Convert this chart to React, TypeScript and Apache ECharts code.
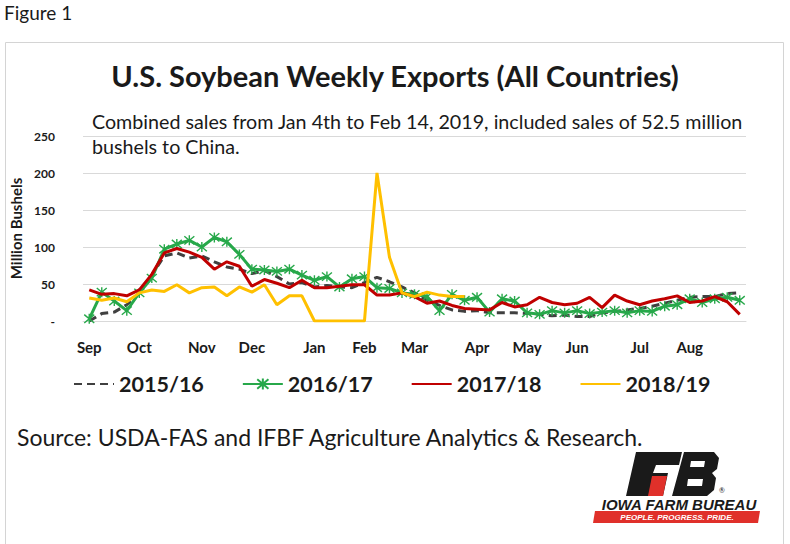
import React, { useEffect, useRef } from "react";
import * as echarts from "echarts";

// 53 weekly categories (Sep .. Aug), month labels at the first week shown
const weekLabels = [
  "Sep", "", "", "", "Oct", "", "", "", "", "Nov", "", "", "", "Dec", "", "", "", "",
  "Jan", "", "", "", "Feb", "", "", "", "Mar", "", "", "", "", "Apr", "", "", "",
  "May", "", "", "", "Jun", "", "", "", "", "Jul", "", "", "", "Aug", "", "", "", "",
];

const exports1516 = [
  0, 10, 12, 22, 38, 62, 88, 92, 85, 88, 80, 73, 70, 64, 68, 60, 50, 52, 46,
  48, 46, 45, 52, 59, 53, 46, 38, 28, 21, 15, 13, 14, 11,
  11, 11, 10, 9, 7, 8, 6, 6, 11, 13, 15, 17, 20, 24, 28, 32, 33, 33, 37, 38,
];
const exports1617 = [
  3, 39, 27, 14, 38, 58, 97, 104, 109, 100, 113, 107, 90, 70, 69, 67, 70, 62, 55,
  60, 46, 57, 60, 45, 44, 38, 36, 33, 14, 36, 28,
  32, 12, 30, 27, 11, 9,
  14, 11, 14, 10, 12, 14, 11, 14, 13,
  20, 22, 30, 25, 30, 32, 28,
];
const exports1718 = [
  42, 36, 37, 34, 42, 63, 92, 98, 93, 86, 70, 80, 74, 47, 56, 51, 45, 55, 45,
  45, 47, 49, 49, 35, 35, 38, 33,
  24, 27, 21, 17, 16, 15, 25, 19, 22, 32, 25, 22, 24, 32, 18, 35, 27, 22, 27, 30, 34, 25, 27, 33, 26, 9,
];
const exports1819 = [
  31, 28, 31, 26, 38, 42, 40, 49, 38, 45, 46, 34, 46, 39, 49, 22, 34, 34,
  0, 0, 0, 0, 0, 200, 86, 38, 33, 39, 35, 33, 33,
];

const seriesNames = ["2015/16", "2016/17", "2017/18", "2018/19"];
const yTicks = [0, 50, 100, 150, 200, 250];

const FONT = "Lato, 'Noto Sans', sans-serif";
const STAR = "path://M0,0L10,10M10,0L0,10M5,-1L5,11";

export default function App() {
  const ref = useRef<HTMLDivElement>(null);
  useEffect(() => {
    if (!ref.current) return;
    const chart = echarts.init(ref.current, undefined, { renderer: "svg" });
    const option: any = {
      animation: false,
      backgroundColor: "#ffffff",
      textStyle: { fontFamily: FONT },
      grid: { left: 82, right: 44, top: 136, bottom: 223, containLabel: false },
      xAxis: {
        type: "category",
        data: weekLabels,
        boundaryGap: true,
        axisLine: { show: true, lineStyle: { color: "#d9d9d9", width: 1 } },
        axisTick: { show: false },
        axisLabel: {
          interval: 0,
          margin: 18,
          color: "#1a1a1a",
          fontWeight: "bold",
          fontSize: 15,
          fontFamily: FONT,
        },
      },
      yAxis: {
        type: "value",
        min: yTicks[0],
        max: yTicks[yTicks.length - 1],
        interval: 50,
        name: "Million Bushels",
        nameLocation: "middle",
        nameRotate: 90,
        nameGap: 60,
        nameTextStyle: { fontWeight: "bold", fontSize: 15, color: "#1a1a1a", fontFamily: FONT },
        axisLine: { show: false },
        axisTick: { show: false },
        splitLine: { lineStyle: { color: "#d9d9d9", width: 1 } },
        axisLabel: {
          margin: 28,
          color: "#1a1a1a",
          fontWeight: "bold",
          fontSize: 12,
          fontFamily: FONT,
          formatter: (v: number) => (v === 0 ? "-" : String(v)),
        },
      },
      legend: {
        top: 368,
        left: 68,
        itemWidth: 40,
        itemHeight: 14,
        itemGap: 38,
        textStyle: { fontSize: 21.5, fontWeight: "bold", color: "#1a1a1a", fontFamily: FONT },
        data: [
          { name: seriesNames[0], itemStyle: { opacity: 0 } },
          { name: seriesNames[1] },
          { name: seriesNames[2], itemStyle: { opacity: 0 } },
          { name: seriesNames[3], itemStyle: { opacity: 0 } },
        ],
      },
      series: [
        {
          name: seriesNames[0],
          type: "line",
          data: exports1516,
          symbol: "none",
          lineStyle: { color: "#404040", width: 3, type: [8, 5] },
          itemStyle: { color: "#404040" },
          z: 2,
        },
        {
          name: seriesNames[1],
          type: "line",
          data: exports1617,
          symbol: STAR,
          symbolSize: 10,
          showSymbol: true,
          lineStyle: { color: "#27a84a", width: 3 },
          itemStyle: { color: "#27a84a", borderColor: "#27a84a", borderWidth: 1.4 },
          z: 3,
        },
        {
          name: seriesNames[2],
          type: "line",
          data: exports1718,
          symbol: "none",
          lineStyle: { color: "#c00000", width: 3 },
          itemStyle: { color: "#c00000" },
          z: 4,
        },
        {
          name: seriesNames[3],
          type: "line",
          data: exports1819,
          symbol: "none",
          lineStyle: { color: "#ffc000", width: 3 },
          itemStyle: { color: "#ffc000" },
          z: 5,
        },
      ],
      graphic: [
        {
          type: "rect",
          shape: { x: 5.5, y: 42.5, width: 778, height: 510 },
          style: { fill: "none", stroke: "#d4d4d4", lineWidth: 1 },
          silent: true,
          z: -1,
        },
        {
          type: "text",
          left: 4,
          top: 3,
          style: { text: "Figure 1", fontSize: 19, fill: "#1a1a1a", fontFamily: FONT },
        },
        {
          type: "text",
          x: 395,
          y: 75,
          style: {
            text: "U.S. Soybean Weekly Exports (All Countries)",
            fontSize: 29,
            fontWeight: "bold",
            fill: "#1a1a1a",
            fontFamily: FONT,
            align: "center",
            verticalAlign: "middle",
          },
        },
        {
          type: "text",
          x: 92,
          y: 109,
          style: {
            text: "Combined sales from Jan 4th to Feb 14, 2019, included sales of 52.5 million\nbushels to China.",
            fontSize: 19.7,
            lineHeight: 25,
            fill: "#1a1a1a",
            fontFamily: FONT,
          },
        },
        {
          type: "text",
          x: 17,
          y: 437,
          style: {
            text: "Source: USDA-FAS and IFBF Agriculture Analytics & Research.",
            fontSize: 23,
            fill: "#1a1a1a",
            fontFamily: FONT,
            verticalAlign: "middle",
          },
        },
        // Iowa Farm Bureau logo
        {
          type: "group",
          children: [
            {
              type: "polygon",
              shape: { points: [[636, 452], [682, 452], [679, 465], [656, 465], [653, 473], [668, 473], [663, 496], [626, 496]] },
              style: { fill: "#1a1a1a" },
            },
            {
              type: "polygon",
              shape: { points: [[652, 476], [667, 476], [663, 496], [648, 496]] },
              style: { fill: "#e0302a" },
            },
            {
              type: "polygon",
              shape: { points: [[684, 452], [714, 452], [719, 458], [717, 469], [712, 473], [716, 478], [714, 490], [707, 496], [672, 496]] },
              style: { fill: "#1a1a1a" },
            },
            {
              type: "polygon",
              shape: { points: [[691, 461], [705, 461], [704, 467], [690, 467]] },
              style: { fill: "#ffffff" },
            },
            {
              type: "polygon",
              shape: { points: [[688, 479], [703, 479], [702, 486], [687, 486]] },
              style: { fill: "#ffffff" },
            },
            {
              type: "text",
              x: 719,
              y: 486,
              style: { text: "®", fontSize: 7, fill: "#1a1a1a", fontFamily: FONT },
            },
            {
              type: "text",
              x: 679,
              y: 504,
              style: {
                text: "IOWA FARM BUREAU",
                fontSize: 15,
                fontWeight: "bold",
                fontStyle: "italic",
                fill: "#1a1a1a",
                fontFamily: "'Liberation Sans', Arial, sans-serif",
                align: "center",
                verticalAlign: "middle",
              },
            },
            {
              type: "polygon",
              shape: { points: [[595, 511], [760, 511], [758, 523], [593, 523]] },
              style: { fill: "#e0302a" },
            },
            {
              type: "text",
              x: 677,
              y: 517,
              style: {
                text: "PEOPLE. PROGRESS. PRIDE.",
                fontSize: 8,
                fontWeight: "bold",
                fontStyle: "italic",
                fill: "#ffffff",
                fontFamily: "'Liberation Sans', Arial, sans-serif",
                align: "center",
                verticalAlign: "middle",
              },
            },
          ],
        },
      ],
    };
    chart.setOption(option);
    return () => chart.dispose();
  }, []);
  return (
    <div
      ref={ref}
      style={{ position: "fixed", left: 0, top: 0, width: 790, height: 544 }}
    />
  );
}
